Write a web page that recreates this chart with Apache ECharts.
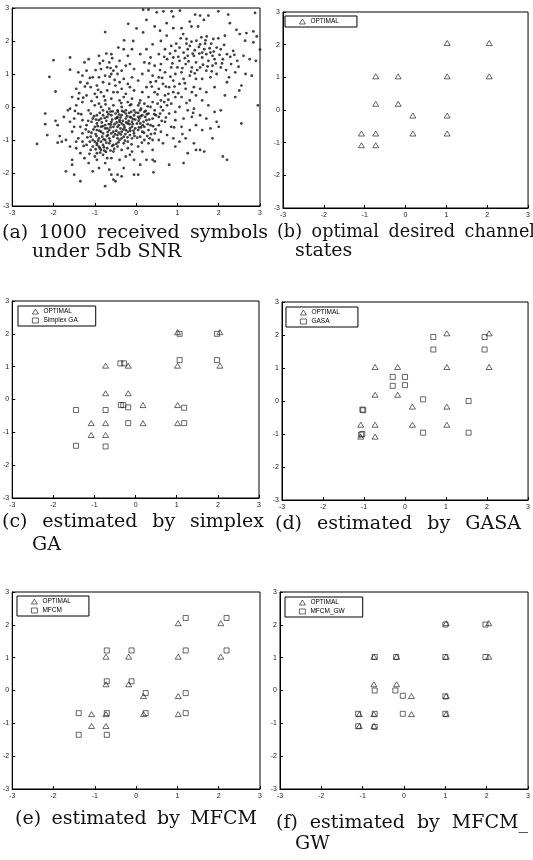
<!DOCTYPE html>
<html>
<head>
<meta charset="utf-8">
<title>channel states</title>
<script src="https://cdn.jsdelivr.net/npm/echarts@6/dist/echarts.min.js"></script>
<style>
body { margin: 0; background: #fff; }
#wrap { position: relative; width: 533px; height: 860px; overflow: hidden; }
#chart { position: absolute; left: 0; top: 0; width: 533px; height: 860px; }
.cap {
  position: absolute;
  font-family: "DejaVu Serif", "Liberation Serif", serif;
  font-size: 19px;
  line-height: 20px;
  color: #111;
  white-space: nowrap;
}
/* justified first lines: words spread across the column */
.cap.j { display: flex; justify-content: space-between; }
</style>
</head>
<body>
<div id="wrap">
  <div id="chart"></div>
  <div class="cap j" style="left:2px;top:221px;width:266px"><span>(a)</span><span>1000</span><span>received</span><span>symbols</span></div>
  <div class="cap" style="left:32px;top:240px">under 5db SNR</div>
  <div class="cap j" style="left:277px;top:221px;width:258px;font-size:17.6px"><span>(b)</span><span>optimal</span><span>desired</span><span>channel</span></div>
  <div class="cap" style="left:295px;top:239px">states</div>
  <div class="cap j" style="left:2px;top:510px;width:262px"><span>(c)</span><span>estimated</span><span>by</span><span>simplex</span></div>
  <div class="cap" style="left:32px;top:533px">GA</div>
  <div class="cap j" style="left:275px;top:512px;width:246px"><span>(d)</span><span>estimated</span><span>by</span><span>GASA</span></div>
  <div class="cap j" style="left:15px;top:807px;width:242px"><span>(e)</span><span>estimated</span><span>by</span><span>MFCM</span></div>
  <div class="cap j" style="left:276px;top:811px;width:252px"><span>(f)</span><span>estimated</span><span>by</span><span>MFCM_</span></div>
  <div class="cap" style="left:295px;top:832px">GW</div>
</div>
<script>
// axis range shared by all six panels
const axisTicks = [-3, -2, -1, 0, 1, 2, 3]

// optimal desired channel states
const optimal = [
  [1.02, 2.05], [2.05, 2.05],
  [-0.73, 1.03], [-0.18, 1.03], [1.02, 1.03], [2.05, 1.03],
  [-0.73, 0.19], [-0.18, 0.19],
  [0.18, -0.17], [1.02, -0.17],
  [-1.08, -0.72], [-0.73, -0.72], [0.18, -0.72], [1.02, -0.72],
  [-1.08, -1.08], [-0.73, -1.08]
]

const simplexGA = [
  [1.07, 2.0], [1.98, 2.0], [1.07, 1.2], [1.98, 1.2],
  [-0.37, 1.1], [-0.28, 1.1], [-0.36, -0.17], [-0.3, -0.17],
  [-0.18, -0.24], [-1.45, -0.32], [-0.73, -0.32], [1.18, -0.25],
  [-0.18, -0.72], [1.18, -0.72], [-1.45, -1.41], [-0.73, -1.43]
]

const gasa = [
  [0.69, 1.94], [0.69, 1.56], [1.94, 1.94], [1.94, 1.56],
  [-0.3, 0.73], [0.0, 0.73], [-0.3, 0.46], [0.0, 0.48],
  [0.44, 0.05], [1.55, 0.0], [-1.04, -0.26], [-1.02, -0.28],
  [-1.04, -1.0], [-1.07, -1.02], [0.44, -0.96], [1.55, -0.96]
]

const mfcm = [
  [1.2, 2.21], [2.19, 2.21], [-0.71, 1.22], [-0.11, 1.22],
  [1.2, 1.22], [2.19, 1.22], [-0.71, 0.28], [-0.11, 0.28],
  [0.23, -0.08], [1.2, -0.08], [-1.39, -0.69], [-0.71, -0.69],
  [0.23, -0.69], [1.2, -0.69], [-1.39, -1.35], [-0.71, -1.35]
]

const mfcmGW = [
  [1.0, 2.01], [1.97, 2.01], [-0.71, 1.02], [-0.19, 1.02],
  [1.0, 1.02], [1.97, 1.02], [-0.71, 0.0], [-0.21, 0.0],
  [-0.03, -0.16], [1.0, -0.18], [-1.11, -0.71], [-0.71, -0.71],
  [-0.03, -0.71], [1.0, -0.71], [-1.11, -1.09], [-0.71, -1.11]
]

// received symbols
const received = [
  [-2.4,-1.12],[-2.2,-0.2],[-2.2,-0.52],[-2.15,-0.85],[-2.1,0.91],[-1.95,0.47],[-2.0,1.42],[-1.95,-0.42],
  [-1.9,-0.55],[-1.85,-0.88],[-1.8,-1.05],[-1.9,-1.08],[-1.7,-1.0],[-1.75,-0.3],[-1.65,-0.1],[-1.6,-0.05],
  [-1.55,0.3],[-1.6,1.13],[-1.6,1.5],[-1.7,-1.95],[-1.6,-1.2],[-1.55,-1.6],[-1.55,-1.75],[-1.5,-2.05],
  [-1.55,-0.75],[-1.5,-0.6],[-1.5,-0.35],[-1.6,-0.45],
  [-1.45,0.05],[-1.4,0.25],[-1.45,0.55],[-1.35,0.75],[-1.3,0.95],[-1.4,1.05],[-1.25,1.35],[-1.15,1.45],
  [-1.2,1.1],[-1.1,0.6],[-1.2,0.35],[-1.3,0.15],[-1.15,-0.1],[-1.4,-0.2],[-1.3,-0.4],[-1.35,-0.6],
  [-1.2,-0.55],[-1.15,-0.75],[-1.4,-0.95],[-1.3,-1.05],[-1.2,-1.15],[-1.45,-1.25],[-1.35,-1.4],[-1.1,-1.3],
  [-1.25,-1.55],[-1.15,-1.7],[-1.35,-2.25],[-1.05,-1.95],[-1.05,-0.35],[-1.1,-0.9],[-1.0,-1.05],[-1.05,-1.2],
  [-1.0,-1.5],[-1.05,0.9],[-1.0,0.4],[-1.0,0.05],[-1.3,-0.8],[-1.45,-1.05],[-1.1,-0.2],
  [-0.95,-1.1],[-0.9,-1.2],[-0.85,-1.05],[-0.9,-0.95],[-0.8,-1.15],[-0.75,-1.0],[-0.85,-1.3],[-0.8,-1.45],
  [-0.7,-1.25],[-0.95,-1.6],[-0.75,-1.7],[-0.9,-1.85],[-0.65,-1.9],[-0.6,-2.05],[-0.75,-2.4],[-0.55,-2.2],
  [-0.5,-2.25],[-0.6,-1.55],[-0.55,-1.35],[-0.65,-1.1],[-0.55,-0.9],[-0.95,-0.7],[-0.85,-0.6],[-0.75,-0.55],
  [-0.65,-0.7],[-0.6,-0.45],[-0.7,-0.3],[-0.85,-0.35],[-0.95,-0.5],[-0.8,-0.8],[-0.6,-0.8],[-0.55,-0.6],
  [-0.5,-0.35],[-0.95,-0.25],[-0.8,-0.1],[-0.65,-0.05],[-0.55,0.05],[-0.9,0.1],[-0.75,0.2],[-0.6,0.25],
  [-0.95,0.3],[-0.85,0.45],[-0.7,0.5],[-0.55,0.45],[-0.95,0.65],[-0.8,0.75],[-0.65,0.7],[-0.5,0.65],
  [-0.9,0.9],[-0.75,0.95],[-0.6,1.0],[-0.85,1.15],[-0.7,1.2],[-0.55,1.1],[-0.8,1.4],[-0.65,1.35],
  [-0.9,1.55],[-0.75,2.27],[-0.6,1.6],[-0.95,-1.4],[-0.7,-1.55],[-0.8,-0.25],[-0.65,-0.95],[-0.9,-0.4],
  [-0.7,-0.65],[-0.55,-1.15],[-0.85,0.0],[-0.7,-0.15],[-0.6,-0.25],
  [-0.45,-0.3],[-0.4,-0.45],[-0.35,-0.25],[-0.3,-0.55],[-0.25,-0.35],[-0.2,-0.5],[-0.15,-0.3],[-0.1,-0.45],
  [-0.05,-0.25],[-0.45,-0.6],[-0.35,-0.75],[-0.25,-0.7],[-0.15,-0.65],[-0.05,-0.8],[-0.45,-0.85],[-0.4,-1.0],
  [-0.3,-0.9],[-0.2,-1.05],[-0.1,-0.95],[-0.45,-1.2],[-0.35,-1.3],[-0.2,-1.25],[-0.1,-1.35],[-0.4,-1.6],
  [-0.25,-1.5],[-0.05,-1.6],[-0.3,-1.85],[-0.45,-2.05],[-0.35,-2.1],[-0.05,-2.05],
  [-0.45,-0.1],[-0.35,0.0],[-0.25,-0.1],[-0.15,0.05],[-0.05,-0.1],[-0.4,0.2],[-0.3,0.3],[-0.2,0.15],
  [-0.1,0.25],[-0.45,0.45],[-0.35,0.55],[-0.25,0.4],[-0.15,0.6],[-0.05,0.5],[-0.4,0.75],[-0.3,0.85],
  [-0.2,0.7],[-0.1,0.9],[-0.45,1.0],[-0.35,1.1],[-0.25,1.25],[-0.15,1.3],[-0.05,1.15],[-0.4,1.4],
  [-0.2,1.55],[-0.3,1.75],[-0.43,1.8],[-0.29,2.02],[-0.07,2.0],[-0.19,2.52],[-0.1,1.75],[-0.35,-0.5],
  [-0.15,-0.85],[-0.4,-0.4],[-0.25,-0.2],[-0.1,-0.6],[-0.3,-1.1],[-0.15,-1.45],
  [0.05,-0.3],[0.1,-0.5],[0.15,-0.25],[0.2,-0.6],[0.25,-0.4],[0.3,-0.7],[0.35,-0.55],[0.4,-0.35],
  [0.45,-0.8],[0.05,-0.7],[0.1,-0.9],[0.2,-1.0],[0.3,-1.1],[0.4,-1.3],[0.15,-1.35],[0.05,-1.2],
  [0.25,-1.6],[0.4,-1.6],[0.45,-1.65],[0.42,-1.98],[0.05,-2.05],[0.1,-1.75],[0.05,0.05],[0.1,0.2],
  [0.2,0.1],[0.3,0.3],[0.4,0.15],[0.45,0.45],[0.15,0.45],[0.25,0.6],[0.35,0.75],[0.05,0.8],
  [0.15,1.0],[0.3,1.1],[0.4,0.95],[0.45,1.25],[0.2,1.35],[0.35,1.5],[0.1,1.6],[0.25,1.75],
  [0.4,1.9],[0.17,2.26],[0.01,2.38],[0.25,2.64],[0.17,2.95],[0.3,2.95],[0.45,2.44],[0.5,2.87],
  [0.1,-0.1],[0.3,-0.2],[0.45,-0.1],[0.35,0.0],[0.2,-0.15],[0.15,-0.75],[0.4,-1.0],
  [0.55,-0.3],[0.65,-0.1],[0.75,0.05],[0.6,0.2],[0.7,0.35],[0.85,0.1],[0.95,0.3],[0.55,0.55],
  [0.65,0.7],[0.8,0.6],[0.9,0.8],[0.55,0.9],[0.7,1.05],[0.85,1.2],[0.95,1.0],[0.6,1.3],
  [0.75,1.45],[0.9,1.5],[0.55,1.6],[0.7,1.75],[0.85,1.85],[0.95,1.7],[0.6,2.0],[0.74,2.16],
  [0.58,2.31],[0.74,2.54],[0.66,2.9],[0.86,2.9],[0.9,2.74],[0.9,2.39],[0.55,-0.55],[0.7,-0.45],
  [0.85,-0.6],[0.95,-0.4],[0.6,-0.75],[0.75,-0.85],[0.9,-0.95],[0.65,-1.1],[0.8,-1.75],[0.95,-1.2],
  [0.55,-1.0],[0.8,-0.2],[0.95,-0.15],[0.6,0.0],[0.9,0.45],
  [1.06,2.92],[1.1,2.39],[1.14,2.21],[1.22,2.06],[1.3,2.59],[1.34,2.44],[1.34,1.98],[1.46,2.01],
  [1.43,2.8],[1.5,2.44],[1.05,1.8],[1.15,1.65],[1.25,1.75],[1.4,1.55],[1.05,1.4],[1.2,1.3],
  [1.35,1.2],[1.45,1.35],[1.1,1.05],[1.3,0.95],[1.45,0.85],[1.05,0.7],[1.2,0.55],[1.4,0.6],
  [1.1,0.3],[1.3,0.2],[1.45,0.35],[1.05,0.0],[1.25,-0.1],[1.4,-0.05],[1.15,-0.35],[1.35,-0.3],
  [1.1,-0.6],[1.3,-0.7],[1.45,-0.55],[1.2,-0.95],[1.4,-1.1],[1.25,-1.4],[1.15,-1.7],[1.45,-1.3],
  [1.05,-1.05],[1.35,0.45],[1.15,0.85],[1.0,1.2],
  [1.55,2.77],[1.75,2.77],[1.64,2.64],[1.58,2.11],[1.71,2.14],[1.87,2.06],[1.99,2.08],[1.99,2.9],
  [1.55,1.9],[1.65,1.75],[1.8,1.65],[1.95,1.8],[1.6,1.5],[1.75,1.4],[1.9,1.45],[1.55,1.2],
  [1.7,1.1],[1.85,1.25],[1.95,1.0],[1.6,0.85],[1.8,0.9],[1.55,0.55],[1.7,0.45],[1.9,0.6],
  [1.6,0.2],[1.75,0.05],[1.9,-0.15],[1.55,-0.25],[1.7,-0.35],[1.6,-0.7],[1.8,-0.65],[1.55,-1.3],
  [1.65,-1.35],[1.85,-0.95],[1.95,-0.45],[1.85,1.55],[1.7,1.6],
  [2.23,2.8],[2.27,2.54],[2.15,2.16],[2.43,2.34],[2.51,2.21],[2.67,2.24],[2.84,2.29],[2.92,2.14],
  [2.64,2.01],[2.84,1.96],[3.0,1.74],[2.88,2.85],[2.05,1.75],[2.2,1.6],[2.1,1.45],[2.3,1.3],
  [2.45,1.4],[2.6,1.55],[2.75,1.45],[2.9,1.4],[2.05,1.2],[2.25,0.9],[2.2,0.75],[2.4,1.05],
  [2.65,1.0],[2.8,0.95],[2.4,0.3],[2.5,0.5],[2.55,0.65],[2.55,-0.5],[2.95,0.05],[2.05,-0.1],
  [2.1,-1.5],[2.2,-1.6],[2.0,-0.6],[2.15,0.35],[2.35,1.7],
  [-1.05,-1.0],[-0.95,-1.15],[-0.88,-1.25],[-0.82,-0.9],[-0.72,-1.08],[-0.68,-0.85],[-0.62,-0.62],[-0.58,-0.38],
  [-0.52,-0.52],[-0.48,-0.72],[-0.42,-0.55],[-0.38,-0.32],[-0.32,-0.42],[-0.28,-0.62],[-0.22,-0.28],[-0.18,-0.42],
  [-0.12,-0.32],[-0.08,-0.52],[-0.02,-0.38],[0.02,-0.5],[0.08,-0.35],[0.12,-0.62],[0.18,-0.45],[0.22,-0.3],
  [0.28,-0.52],[-0.98,-0.82],[-0.92,-1.02],[-0.78,-1.22],[-0.72,-0.42],[-0.66,-0.52],[-0.5,-0.2],[-0.44,-0.15],
  [-0.38,-0.65],[-0.3,-0.15],[-0.2,-0.75],[-0.12,-0.15],[-0.02,-0.65],[0.05,-0.18],[0.12,-0.05],[-0.55,-0.75],
  [-0.45,-0.95],[-0.85,-0.75],[-0.75,-0.65],[-1.0,-0.6],[-1.08,-0.45],[-1.12,-1.05],[-1.18,-0.92],[-0.98,-1.28],
  [-0.62,-1.32],[-0.48,-1.12],[-0.35,-0.95],[0.58,-0.2],[0.62,-0.42],[0.48,-0.25],[0.52,0.1],[0.68,0.15],
  [0.78,0.4],[1.25,1.55],[1.6,1.65],[1.3,1.85],
  [-1.22,-0.68],[-1.16,-0.42],[-1.08,-0.78],[-1.02,-0.28],[-0.96,-0.88],[-0.93,-0.58],[-0.87,-1.38],[-0.83,-0.47],
  [-0.79,-0.98],[-0.76,-0.33],[-0.73,-1.36],[-0.69,-0.76],[-0.67,-0.22],[-0.63,-1.03],[-0.61,-0.53],[-0.57,-0.13],
  [-0.53,-1.27],[-0.51,-0.83],[-0.47,-0.47],[-0.43,-1.07],[-0.41,-0.23],[-0.37,-0.83],[-0.34,-0.12],[-0.31,-0.68],
  [-0.27,-1.02],[-0.24,-0.47],[-0.21,-0.92],[-0.17,-0.18],[-0.14,-0.72],[-0.11,-1.13],[-0.07,-0.37],[-0.04,-0.88],
  [-0.01,-0.17],[0.03,-0.93],[0.07,-0.62],[0.11,-0.28],[0.14,-1.08],[0.19,-0.78],[0.23,-0.12],[0.27,-0.88],
  [0.32,-0.38],[0.36,-0.82],[0.41,-0.58],[0.44,-0.22],[0.47,-0.68],[-1.27,-1.18],[-1.13,-1.42],[-1.03,-0.68],
  [-0.97,-0.38],[-0.89,-0.72],[-0.81,-0.58],[-0.77,-1.32],[-0.71,-0.88],[-0.58,-1.18],[-0.46,-0.33],[-0.42,-0.78],
  [-0.26,-0.82],[-0.16,-0.52],[-0.06,-0.72],[0.06,-0.42],[0.16,-0.55],[0.26,-0.22],[0.33,-0.95],[-0.88,-0.18],
  [-0.62,-0.14],[-0.36,0.12],[-0.12,0.08],[0.08,0.12],[0.28,0.02],[-0.74,0.08],
  [0.38,0.62],[0.52,0.38],[0.63,0.88],[0.72,0.62],[0.83,0.92],[0.93,0.62],[1.02,1.52],[1.12,1.18],
  [1.18,0.72],[1.27,1.38],[1.33,1.07],[1.42,1.72],[1.48,1.12],[1.53,1.62],[1.62,1.28],[1.67,1.92],
  [1.73,1.23],[1.78,1.78],[1.83,1.08],[1.88,1.68],[1.93,1.32],[2.02,1.58],[2.08,1.32],[2.13,1.88],
  [2.18,1.12],[2.28,1.52],[2.38,1.58],[2.48,1.22],[0.68,1.52],[0.82,1.62],[0.97,1.92],[1.08,2.08],
  [1.22,1.92],[1.37,1.62],[1.52,1.82],[1.68,2.02],[1.82,1.92],[0.88,1.32],[1.18,1.48],[1.42,1.02],
  [0.78,0.22],[1.02,0.42],[1.22,0.12],[1.38,-0.18],[0.92,-0.62],[1.12,-0.82],[0.72,-0.32],[0.48,0.78],
  [0.58,1.12],[0.32,1.32],
  [-1.38,0.42],[-1.24,0.62],[-1.12,0.88],[-0.98,1.12],[-0.88,1.32],[-1.28,0.28],[-1.08,0.18],[-0.92,0.52],
  [-0.78,0.32],[-0.64,0.92],[-0.52,0.82],[-0.48,1.22],[-0.62,1.18],[-1.48,-0.12],[-1.33,-0.22],[-0.72,1.62],
  [-0.58,1.48],[-1.18,0.72]
]

const hollow = { color: 'rgba(0,0,0,0)', borderColor: '#111', borderWidth: 0.8 }

// series look: dot / triangle / square
const styles = {
  dot: { symbol: 'circle', symbolSize: 2.8, itemStyle: { color: '#111' } },
  tri: { symbol: 'triangle', symbolSize: [6, 5], itemStyle: hollow },
  sq: { symbol: 'rect', symbolSize: 5, itemStyle: hollow }
}

const panels = [
  { grid: { left: 12, top: 8, width: 248, height: 198 },
    series: [['received', received, 'dot']] },
  { grid: { left: 283, top: 12, width: 247, height: 196 },
    series: [['OPTIMAL', optimal, 'tri']],
    legend: { left: 285, top: 16 } },
  { grid: { left: 12, top: 301, width: 247, height: 197 },
    series: [['OPTIMAL', optimal, 'tri'], ['Simplex GA', simplexGA, 'sq']],
    legend: { left: 18, top: 306 } },
  { grid: { left: 282, top: 302, width: 247, height: 198 },
    series: [['OPTIMAL', optimal, 'tri'], ['GASA', gasa, 'sq']],
    legend: { left: 286, top: 307 } },
  { grid: { left: 12, top: 592, width: 248, height: 197 },
    series: [['OPTIMAL', optimal, 'tri'], ['MFCM', mfcm, 'sq']],
    legend: { left: 17, top: 596 } },
  { grid: { left: 280, top: 592, width: 249, height: 197 },
    series: [['OPTIMAL', optimal, 'tri'], ['MFCM_GW', mfcmGW, 'sq']],
    legend: { left: 285, top: 597 } }
]

const tickFont = { fontSize: 7, color: '#222', fontFamily: 'Liberation Sans' }

function makeAxis (i, margin) {
  return {
    gridIndex: i,
    type: 'value',
    min: axisTicks[0],
    max: axisTicks[axisTicks.length - 1],
    interval: 1,
    axisLine: { show: true, onZero: false, lineStyle: { color: '#000', width: 1 } },
    axisTick: { inside: true, length: 3, lineStyle: { color: '#000' } },
    axisLabel: Object.assign({ margin: margin }, tickFont),
    splitLine: { show: false }
  }
}

const option = {
  animation: false,
  backgroundColor: '#fff',
  grid: [],
  xAxis: [],
  yAxis: [],
  legend: [],
  series: []
}

panels.forEach((p, i) => {
  option.grid.push(Object.assign({ show: true, borderColor: '#000', borderWidth: 1, backgroundColor: '#fff' }, p.grid))
  option.xAxis.push(makeAxis(i, 4))
  option.yAxis.push(makeAxis(i, 3))
  p.series.forEach(s => {
    option.series.push(Object.assign({
      type: 'scatter',
      name: s[0],
      data: s[1],
      xAxisIndex: i,
      yAxisIndex: i,
      silent: true
    }, styles[s[2]]))
  })
  if (p.legend) {
    option.legend.push({
      left: p.legend.left,
      top: p.legend.top,
      orient: 'vertical',
      data: p.series.map(s => s[0]),
      selectedMode: false,
      backgroundColor: '#fff',
      borderColor: '#000',
      borderWidth: 1,
      borderRadius: 0,
      padding: [2, 18, 2, 14],
      itemGap: 2,
      itemWidth: 6,
      itemHeight: 5,
      itemStyle: { color: 'rgba(0,0,0,0)', borderColor: '#111', borderWidth: 0.8 },
      textStyle: { fontSize: 6.5, color: '#000', fontFamily: 'Liberation Sans' }
    })
  }
})

const myChart = echarts.init(document.getElementById('chart'), null, { renderer: 'canvas' })
myChart.setOption(option)
</script>
</body>
</html>
